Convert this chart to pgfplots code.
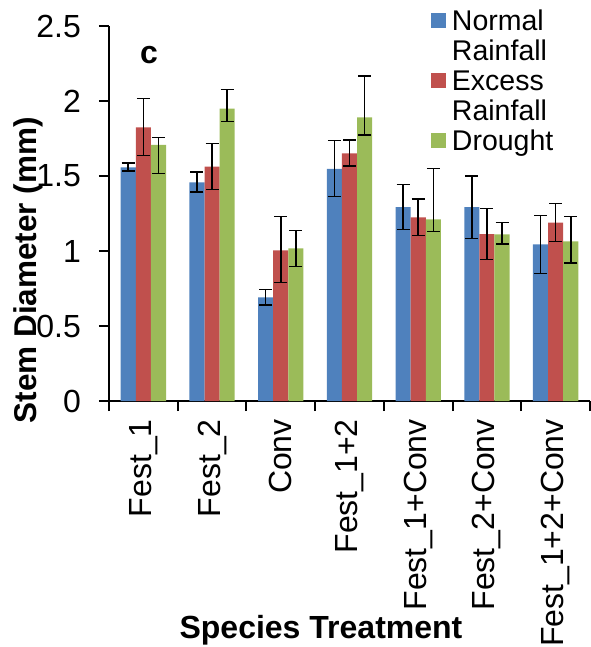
\documentclass[border=0pt]{standalone}
\usepackage{pgfplots}
\usepackage{pgfplotstable}
\pgfplotsset{compat=1.18}
\usepackage{fontspec}
\setmainfont{Liberation Sans}
\definecolor{nblue}{HTML}{4F81BD}
\definecolor{ered}{HTML}{C0504D}
\definecolor{dgreen}{HTML}{9BBB59}

\pgfplotstableread{
x y ep em
0 1.558 0.030 0.025
1 1.458 0.069 0.065
2 0.691 0.053 0.051
3 1.547 0.188 0.185
4 1.293 0.151 0.149
5 1.293 0.207 0.209
6 1.044 0.194 0.193
}\normaltab
\pgfplotstableread{
x y ep em
0 1.824 0.191 0.186
1 1.562 0.156 0.153
2 1.004 0.225 0.215
3 1.651 0.089 0.086
4 1.224 0.123 0.122
5 1.113 0.169 0.171
6 1.189 0.126 0.125
}\excesstab
\pgfplotstableread{
x y ep em
0 1.707 0.048 0.189
1 1.949 0.129 0.087
2 1.018 0.117 0.123
3 1.891 0.276 0.118
4 1.211 0.338 0.082
5 1.111 0.080 0.064
6 1.064 0.165 0.144
}\droughttab

\begin{document}
\begin{tikzpicture}
\useasboundingbox (-109pt,-246pt) rectangle (481pt,401pt);
\begin{axis}[
  at={(0pt,0pt)}, anchor=south west,
  scale only axis, width=481pt, height=375pt,
  xmin=-0.5, xmax=6.5, ymin=0, ymax=2.5,
  ybar=0pt, bar width=0.22,
  axis x line*=bottom, axis y line*=left,
  axis line style={-, line width=2pt, black},
  xtick={0,...,6},
  xticklabels={Fest\_1, Fest\_2, Conv, Fest\_1+2, Fest\_1+Conv, Fest\_2+Conv, Fest\_1+2+Conv},
  minor xtick={-0.5,0.5,...,6.5},
  ytick={0,0.5,...,2.5},
  tick align=outside,
  major tick length=10pt, minor tick length=10pt,
  tick style={line width=2pt, black},
  major x tick style={draw=none},
  /pgf/number format/assume math mode=true,
  xticklabel style={rotate=90, anchor=east, inner sep=0pt, font=\fontsize{32}{38}\selectfont},
  xticklabel shift=8pt,
  yticklabel style={inner sep=0pt, font=\fontsize{32}{38}\selectfont},
  yticklabel shift=18pt,
  xlabel={Species Treatment},
  xlabel style={at={(axis description cs:0.4407,-0.632)}, anchor=base, inner sep=0pt, font=\bfseries\fontsize{32}{38}\selectfont},
  ylabel={Stem Diameter (mm)},
  ylabel style={at={(axis description cs:-0.1497,0.349)}, anchor=base, inner sep=0pt, font=\bfseries\fontsize{31.5}{38}\selectfont},
  legend style={at={(axis description cs:0.6694,1.0453)}, anchor=north west, draw=none, fill=none,
    inner sep=0pt, outer sep=0pt, row sep=0pt, /tikz/column sep=6pt,
    font=\fontsize{28.5}{30}\selectfont,
    nodes={inner sep=0pt, text height=21pt, text depth=9pt},
    cells={anchor=base west}},
  error bars/error bar style={line width=1.5pt, black},
  error bars/error mark options={rotate=90, mark size=6.5pt, line width=1.5pt, black},
]
\addplot[fill=nblue, draw=none, bar shift=-0.22,
  legend image code/.code={\fill[nblue] (0pt,1.7pt) rectangle (15pt,16.7pt);},
  error bars/.cd, y dir=both, y explicit]
  table[x=x, y=y, y error plus=ep, y error minus=em] {\normaltab};
\addlegendentry{Normal}
\addlegendimage{empty legend}
\addlegendentry{Rainfall}
\addplot[fill=ered, draw=none, bar shift=0,
  legend image code/.code={\fill[ered] (0pt,1.7pt) rectangle (15pt,16.7pt);},
  error bars/.cd, y dir=both, y explicit]
  table[x=x, y=y, y error plus=ep, y error minus=em] {\excesstab};
\addlegendentry{Excess}
\addlegendimage{empty legend}
\addlegendentry{Rainfall}
\addplot[fill=dgreen, draw=none, bar shift=0.22,
  legend image code/.code={\fill[dgreen] (0pt,1.7pt) rectangle (15pt,16.7pt);},
  error bars/.cd, y dir=both, y explicit]
  table[x=x, y=y, y error plus=ep, y error minus=em] {\droughttab};
\addlegendentry{Drought}
\node[anchor=base west, inner sep=0pt, font=\bfseries\fontsize{32}{38}\selectfont] at (axis description cs:0.0644,0.9013) {c};
\end{axis}
\end{tikzpicture}
\end{document}
